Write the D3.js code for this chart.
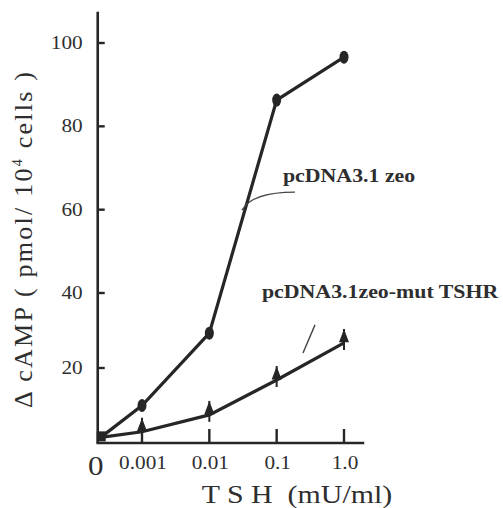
<!DOCTYPE html>
<html>
<head>
<meta charset="utf-8">
<script src="https://cdn.jsdelivr.net/npm/d3@7"></script>
<style>
  html, body { margin: 0; padding: 0; background: #ffffff; }
  svg { display: block; }
  text { font-family: "Liberation Serif", "DejaVu Serif", serif; fill: #2e2e2e; white-space: pre; }
</style>
</head>
<body>
<svg id="chart" width="503" height="508"></svg>
<script>
// ---- data ----
const doses = [0, 0.001, 0.01, 0.1, 1];
const doseLabels = ["0", "0.001", "0.01", "0.1", "1.0"];
const zeoValues = [1.5, 10, 29.3, 86.3, 96.6];
const mutValues = [1.5, 3, 7.5, 16.8, 26.7];
const yTicks = [20, 40, 60, 80, 100];
const seriesNames = ["pcDNA3.1 zeo", "pcDNA3.1zeo-mut TSHR"];
const xTitle = "T S H  (mU/ml)";

// ---- layout ----
const ZERO_POS = 0.00022;   // position on the broken log axis standing for dose 0
const X_END = 2;
const Y_TOP = 107.5;
const STRETCH = 1.15;
const ink = "#262626";

const svg = d3.select("#chart");

const x = d3.scaleLog().domain([0.001, 1]).range([142, 344]);
const y = d3.scaleLinear().domain([0, 40, 100]).range([443, 293, 43]);
const xp = d => d === 0 ? x(ZERO_POS) + 3 : x(d);

// axes lines
svg.append("line")
  .attr("x1", x(ZERO_POS)).attr("x2", x(ZERO_POS))
  .attr("y1", y(0)).attr("y2", y(Y_TOP))
  .attr("stroke", ink).attr("stroke-width", 2.6);
svg.append("line")
  .attr("x1", x(ZERO_POS) - 1.3).attr("x2", x(X_END))
  .attr("y1", y(0)).attr("y2", y(0))
  .attr("stroke", ink).attr("stroke-width", 2.6);

// y ticks
const yt = svg.append("g");
yTicks.forEach(v => {
  yt.append("line")
    .attr("x1", x(ZERO_POS)).attr("x2", x(ZERO_POS) + 7)
    .attr("y1", y(v)).attr("y2", y(v))
    .attr("stroke", ink).attr("stroke-width", 2.4);
  yt.append("text")
    .attr("transform", `translate(${x(ZERO_POS) - 15},${y(v) + 6}) scale(${STRETCH},1)`)
    .attr("text-anchor", "end")
    .attr("font-size", 18.5)
    .text(v);
});

// x ticks
doses.forEach((d, i) => {
  if (d !== 0) {
    svg.append("line")
      .attr("x1", x(d)).attr("x2", x(d))
      .attr("y1", y(0)).attr("y2", y(0) - 14)
      .attr("stroke", ink).attr("stroke-width", 2.4);
    svg.append("text")
      .attr("transform", `translate(${x(d) + 1},469) scale(${STRETCH},1)`)
      .attr("text-anchor", "middle")
      .attr("font-size", 18.5)
      .text(doseLabels[i]);
  } else {
    svg.append("text")
      .attr("transform", `translate(${x(ZERO_POS) - 2},475) scale(${STRETCH},1)`)
      .attr("text-anchor", "middle")
      .attr("font-size", 27)
      .text(doseLabels[i]);
  }
});

// axis titles
svg.append("text")
  .attr("transform", `translate(297,503) scale(${STRETCH},1)`)
  .attr("text-anchor", "middle")
  .attr("font-size", 26)
  .text(xTitle);

const yl = svg.append("text")
  .attr("transform", `translate(32,240) rotate(-90)`)
  .attr("text-anchor", "middle")
  .attr("font-size", 26)
  .attr("textLength", 336)
  .attr("lengthAdjust", "spacing");
yl.append("tspan").text("\u0394 cAMP ( pmol/ 10");
yl.append("tspan").attr("font-size", 14).attr("dy", -10).text("4");
yl.append("tspan").attr("dy", 10).text(" cells )");

// lines
const line = d3.line().x(d => xp(d[0])).y(d => y(d[1]));
const zeoPts = doses.map((d, i) => [d, zeoValues[i]]);
const mutPts = doses.map((d, i) => [d, mutValues[i]]);

svg.append("path").datum(zeoPts).attr("d", line)
  .attr("fill", "none").attr("stroke", ink).attr("stroke-width", 3.2);
svg.append("path").datum(mutPts).attr("d", line)
  .attr("fill", "none").attr("stroke", ink).attr("stroke-width", 3.2);

// zero-dose blob
svg.append("rect")
  .attr("x", xp(0) - 4).attr("y", y(zeoValues[0]) - 6)
  .attr("width", 9).attr("height", 10)
  .attr("fill", ink);

// circle markers
svg.selectAll(".c").data(zeoPts.slice(1)).enter().append("ellipse")
  .attr("cx", d => xp(d[0])).attr("cy", d => y(d[1]))
  .attr("rx", 4.5).attr("ry", 6.5)
  .attr("fill", ink);

// triangle markers with error bars
const tri = d3.symbol().type(d3.symbolTriangle).size(60);
const tg = svg.selectAll(".t").data(mutPts.slice(1)).enter().append("g")
  .attr("transform", d => `translate(${xp(d[0])},${y(d[1])})`);
tg.append("line").attr("x1", 0).attr("x2", 0).attr("y1", -14).attr("y2", 7)
  .attr("stroke", ink).attr("stroke-width", 2);
tg.append("path").attr("d", tri).attr("transform", "translate(0,-5) scale(0.85,1.3)")
  .attr("fill", ink);

// annotations (in data units)
const ann1 = { text: [0.124, 66.6], from: [0.0306, 59.9], bend: [0.05, 63.8], to: [0.187, 64.2] };
const ann2 = { text: [0.0605, 38.7], from: [0.246, 24], to: [0.371, 31.5] };

svg.append("text")
  .attr("transform", `translate(${x(ann1.text[0])},${y(ann1.text[1])}) scale(${STRETCH},1)`)
  .attr("font-size", 19).attr("font-weight", "bold")
  .text(seriesNames[0]);
svg.append("path")
  .attr("d", `M${x(ann1.from[0])},${y(ann1.from[1])} Q${x(ann1.bend[0]) - 4},${y(ann1.to[1])} ${x(ann1.to[0])},${y(ann1.to[1])}`)
  .attr("fill", "none").attr("stroke", "#444").attr("stroke-width", 1.4);

svg.append("text")
  .attr("transform", `translate(${x(ann2.text[0])},${y(ann2.text[1])}) scale(${STRETCH},1)`)
  .attr("font-size", 19).attr("font-weight", "bold")
  .text(seriesNames[1]);
svg.append("line")
  .attr("x1", x(ann2.from[0])).attr("y1", y(ann2.from[1]))
  .attr("x2", x(ann2.to[0])).attr("y2", y(ann2.to[1]))
  .attr("stroke", "#444").attr("stroke-width", 1.4);
</script>
</body>
</html>
